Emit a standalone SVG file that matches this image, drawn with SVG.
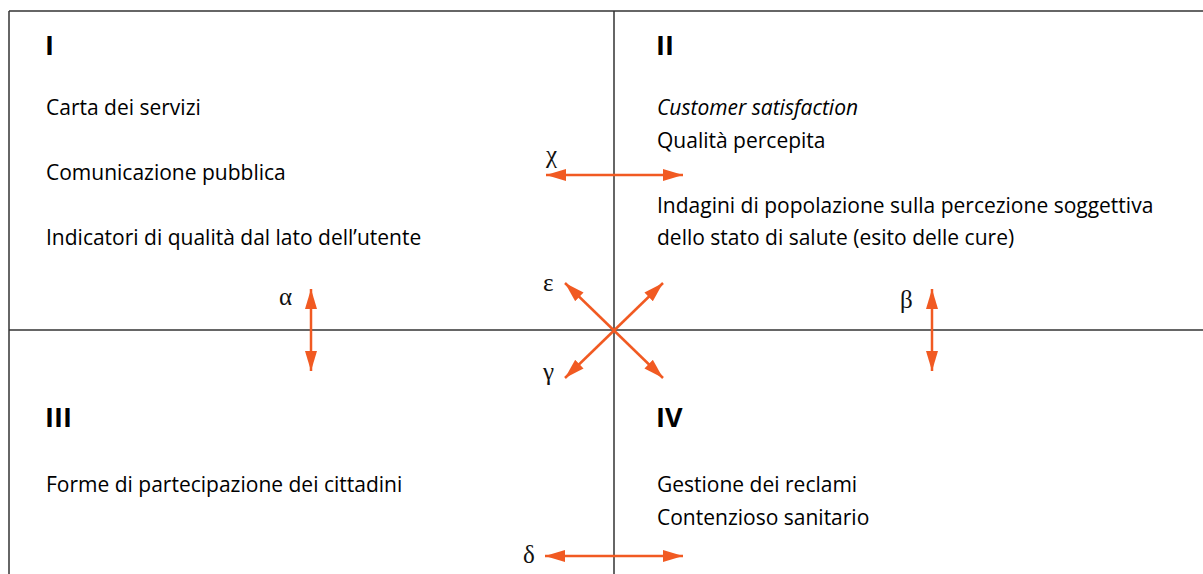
<svg xmlns="http://www.w3.org/2000/svg" width="1203" height="574" viewBox="0 0 1203 574">
<style>
.frame{stroke:#333;stroke-width:1.5;fill:none}
.arr{stroke:#F15A22;stroke-width:2.5;fill:none;marker-start:url(#ah);marker-end:url(#ah)}
.num{font-family:"Open Sans","Noto Sans",sans-serif;font-weight:bold;font-size:27px;fill:#000}
.t{font-family:"Open Sans","Noto Sans",sans-serif;font-size:21px;fill:#000}
.it{font-style:italic}
.g{font-family:"Liberation Serif","DejaVu Serif",serif;font-size:25px;fill:#111}
</style>
<defs>
<marker id="ah" markerUnits="userSpaceOnUse" markerWidth="21" markerHeight="13" refX="20" refY="6.5" orient="auto-start-reverse">
<path d="M0,0.5 L20,6.5 L0,12.5 z" fill="#F15A22"/>
</marker>
</defs>
<rect width="1203" height="574" fill="#fff"/>
<g id="frame">
<line class="frame" x1="9" y1="11" x2="1203" y2="11"/>
<line class="frame" x1="9" y1="11" x2="9" y2="574"/>
<line class="frame" x1="9" y1="330" x2="1203" y2="330"/>
<line class="frame" x1="614" y1="11" x2="614" y2="574"/>
</g>
<g id="q1">
<text class="num" x="45" y="55">I</text>
<text class="t" x="46" y="115">Carta dei servizi</text>
<text class="t" x="46" y="180">Comunicazione pubblica</text>
<text class="t" x="46" y="245">Indicatori di qualità dal lato dell’utente</text>
</g>
<g id="q2">
<text class="num" x="656" y="55">II</text>
<text class="t it" x="657" y="115">Customer satisfaction</text>
<text class="t" x="657" y="148">Qualità percepita</text>
<text class="t" x="657" y="213">Indagini di popolazione sulla percezione soggettiva</text>
<text class="t" x="657" y="245">dello stato di salute (esito delle cure)</text>
</g>
<g id="q3">
<text class="num" x="45" y="427">III</text>
<text class="t" x="46" y="492">Forme di partecipazione dei cittadini</text>
</g>
<g id="q4">
<text class="num" x="656" y="427">IV</text>
<text class="t" x="657" y="492">Gestione dei reclami</text>
<text class="t" x="657" y="525">Contenzioso sanitario</text>
</g>
<g id="connectors">
<line class="arr" x1="546" y1="175" x2="683" y2="175"/>
<line class="arr" x1="545" y1="556" x2="683" y2="556"/>
<line class="arr" x1="311" y1="289" x2="311" y2="371"/>
<line class="arr" x1="932" y1="289" x2="932" y2="371"/>
<line class="arr" x1="565" y1="283" x2="663" y2="378"/>
<line class="arr" x1="663" y1="283" x2="565" y2="378"/>
</g>
<g id="labels">
<text class="g" x="546" y="163">χ</text>
<text class="g" x="543" y="291">ε</text>
<text class="g" x="543" y="380">γ</text>
<text class="g" x="279" y="305">α</text>
<text class="g" x="900" y="308">β</text>
<text class="g" x="523" y="563">δ</text>
</g>
</svg>
